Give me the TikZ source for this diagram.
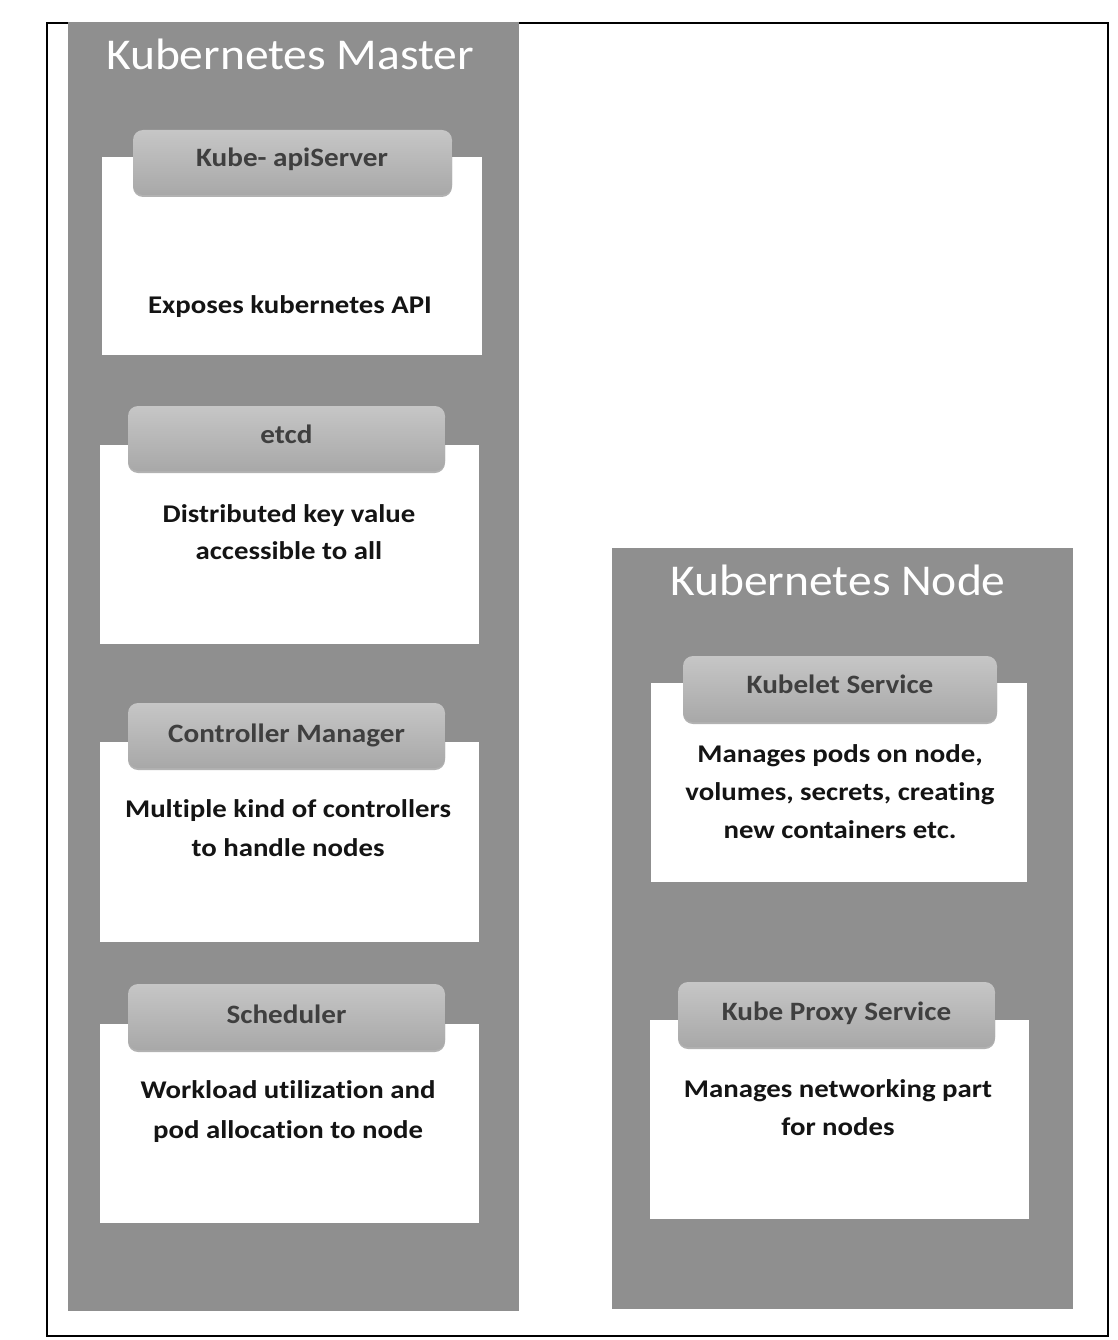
\documentclass[tikz,border=0pt]{standalone}
\usepackage{fontspec}
\usepackage{graphicx}
\setmainfont{Carlito}[Ligatures=NoCommon]
\usetikzlibrary{shadows}
\definecolor{panelgray}{HTML}{8F8F8F}
\definecolor{tabtop}{HTML}{C6C6C6}
\definecolor{tabbot}{HTML}{A8A8A8}
\definecolor{tabtext}{HTML}{3F3F3F}
\definecolor{bodytext}{HTML}{141414}
\newcommand{\wbody}[1]{\scalebox{1.13}[1]{#1}}
\newcommand{\wtab}[1]{\scalebox{1.1}[1]{#1}}
\newcommand{\wtitle}[1]{\scalebox{1.08}[1]{#1}}
\tikzset{
  panel/.style={fill=panelgray, draw=none},
  wbox/.style={rectangle, fill=white, draw=none, inner sep=0pt},
  tabbox/.style={rectangle, rounded corners=10pt, top color=tabtop, bottom color=tabbot, draw=none, inner sep=0pt,
     drop shadow={shadow xshift=0pt, shadow yshift=-2pt, opacity=0.3, fill=black}},
  tablabel/.style={anchor=base, inner sep=0pt, text=tabtext, font=\fontsize{26.5}{30}\selectfont\bfseries},
  bodyline/.style={anchor=base, inner sep=0pt, text=bodytext, font=\fontsize{25.5}{30}\selectfont\bfseries},
  paneltitle/.style={anchor=base, inner sep=0pt, text=white, font=\fontsize{44}{50}\selectfont},
}
\begin{document}
\begin{tikzpicture}[x=1pt, y=-1pt]
\useasboundingbox (0,0) rectangle (1118,1340);
% outer frame
\draw[line width=2pt, black] (47,23) rectangle (1108,1336);
% panels
\node[panel, rectangle, inner sep=0pt, minimum width=451pt, minimum height=1289pt] (master) at (293.5,666.5) {};
\node[panel, rectangle, inner sep=0pt, minimum width=461pt, minimum height=761pt] (nodepanel) at (842.5,928.5) {};
\node[paneltitle] (mtitle) at (290,70) {\wtitle{Kubernetes Master}};
\node[paneltitle] (ntitle) at (838,595) {\wtitle{Kubernetes Node}};
% white boxes
\node[wbox, minimum width=380pt, minimum height=198pt] (apiw) at (292,256) {};
\node[wbox, minimum width=379pt, minimum height=199pt] (etcdw) at (289.5,544.5) {};
\node[wbox, minimum width=379pt, minimum height=200pt] (ctrlw) at (289.5,842) {};
\node[wbox, minimum width=379pt, minimum height=199pt] (schedw) at (289.5,1123.5) {};
\node[wbox, minimum width=376pt, minimum height=199pt] (kubeletw) at (839,782.5) {};
\node[wbox, minimum width=379pt, minimum height=199pt] (proxyw) at (839.5,1119.5) {};
% tabs
\node[tabbox, minimum width=319pt, minimum height=65pt] (apit) at (292.5,162.5) {};
\node[tabbox, minimum width=317pt, minimum height=65pt] (etcdt) at (286.5,438.5) {};
\node[tabbox, minimum width=317pt, minimum height=65pt] (ctrlt) at (286.5,735.5) {};
\node[tabbox, minimum width=317pt, minimum height=66pt] (schedt) at (286.5,1017) {};
\node[tabbox, minimum width=314pt, minimum height=66pt] (kubelett) at (840,689) {};
\node[tabbox, minimum width=317pt, minimum height=65pt] (proxyt) at (836.5,1014.5) {};
% tab labels
\node[tablabel] (apil) at (292,167) {\wtab{Kube- apiServer}};
\node[tablabel] (etcdl) at (286.5,443) {\wtab{etcd}};
\node[tablabel] (ctrll) at (286.5,742) {\wtab{Controller Manager}};
\node[tablabel] (schedl) at (286.5,1023) {\wtab{Scheduler}};
\node[tablabel] (kubeletl) at (840,693) {\wtab{Kubelet Service}};
\node[tablabel] (proxyl) at (836.5,1020) {\wtab{Kube Proxy Service}};
% body texts
\node[bodyline] (apib1) at (290,313) {\wbody{Exposes kubernetes API}};
\node[bodyline] (etcdb1) at (289,522) {\wbody{Distributed key value}};
\node[bodyline] (etcdb2) at (289,559) {\wbody{accessible to all}};
\node[bodyline] (ctrlb1) at (288,817) {\wbody{Multiple kind of controllers}};
\node[bodyline] (ctrlb2) at (288,856) {\wbody{to handle nodes}};
\node[bodyline] (schedb1) at (288,1098) {\wbody{Workload utilization and}};
\node[bodyline] (schedb2) at (288,1138) {\wbody{pod allocation to node}};
\node[bodyline] (kubeletb1) at (840,762) {\wbody{Manages pods on node,}};
\node[bodyline] (kubeletb2) at (840,800) {\wbody{volumes, secrets, creating}};
\node[bodyline] (kubeletb3) at (840,838) {\wbody{new containers etc.}};
\node[bodyline] (proxyb1) at (838,1097) {\wbody{Manages networking part}};
\node[bodyline] (proxyb2) at (838,1135) {\wbody{for nodes}};
\end{tikzpicture}
\end{document}
